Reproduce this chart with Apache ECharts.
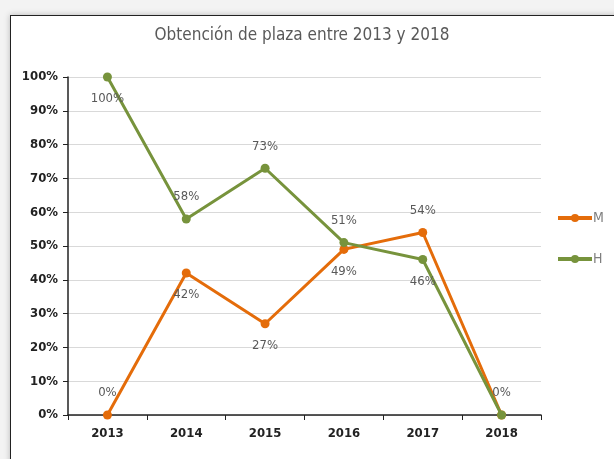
<!DOCTYPE html>
<html><head><meta charset="utf-8">
<script src="https://cdn.jsdelivr.net/npm/echarts@6/dist/echarts.min.js"></script>
<style>
html,body{margin:0;padding:0;background:#f3f3f3;width:614px;height:459px;overflow:hidden;}
#frame{position:absolute;left:10px;top:15px;width:620px;height:460px;border:1px solid #222;background:#fff;box-shadow:0 0 6px rgba(0,0,0,0.25);}
#main{position:absolute;left:0;top:0;width:614px;height:459px;}
</style></head>
<body>
<div id="frame"></div>
<div id="main"></div>
<script>
var years = ['2013','2014','2015','2016','2017','2018'];
var valuesM = [0, 42, 27, 49, 54, 0];
var valuesH = [100, 58, 73, 51, 46, 0];
var labelPosM = ['top','bottom','bottom','bottom','top','none'];
var labelPosH = ['bottom','top','top','top','bottom','top'];
var yTicks = [0,10,20,30,40,50,60,70,80,90,100];

function build(vals, pos){
  return vals.map(function(v,i){
    var p = pos[i];
    if(p==='none') return {value:v, label:{show:false}};
    return {value:v, label:{show:true, position:p, distance:11}};
  });
}
var font = "'Liberation Sans Narrow','DejaVu Sans Condensed','Liberation Sans',sans-serif";
var chart = echarts.init(document.getElementById('main'));
chart.setOption({
  animation:false,
  title:{text:'Obtención de plaza entre 2013 y 2018', left:297, top:22, textAlign:'center',
    textStyle:{fontFamily:font, fontSize:17, fontWeight:'normal', color:'#595959'}},
  grid:{left:68, right:73, top:77, bottom:44},
  legend:{orient:'vertical', left:551, top:206, itemGap:27, itemWidth:34, itemHeight:10,
    data:['M','H'], lineStyle:{width:4},
    textStyle:{fontFamily:font, fontSize:14, color:'#7f7f7f', padding:[0,0,0,-4]}},
  xAxis:{type:'category', data:years, boundaryGap:true,
    axisLine:{lineStyle:{color:'#222', width:1.5}},
    axisTick:{show:true, length:5, lineStyle:{color:'#222'}},
    axisLabel:{fontFamily:font, fontSize:13, fontWeight:'bold', color:'#222', margin:12}},
  yAxis:{type:'value', min:0, max:100, interval:10,
    axisLine:{show:true, lineStyle:{color:'#222', width:1.5}},
    axisTick:{show:true, inside:false, length:5, lineStyle:{color:'#222'}},
    splitLine:{lineStyle:{color:'#d9d9d9'}},
    axisLabel:{fontFamily:font, fontSize:13, fontWeight:'bold', color:'#222', margin:10,
      formatter:function(v){return v+'%';}}},
  series:[
    {name:'M', type:'line', data:build(valuesM,labelPosM), symbol:'circle', symbolSize:9,
     lineStyle:{color:'#E46C0A', width:3}, itemStyle:{color:'#E46C0A'},
     label:{fontFamily:font, fontSize:13, color:'#595959', formatter:'{c}%'}, z:2},
    {name:'H', type:'line', data:build(valuesH,labelPosH), symbol:'circle', symbolSize:9,
     lineStyle:{color:'#77933C', width:3}, itemStyle:{color:'#77933C'},
     label:{fontFamily:font, fontSize:13, color:'#595959', formatter:'{c}%'}, z:3}
  ]
});
</script>
</body></html>
